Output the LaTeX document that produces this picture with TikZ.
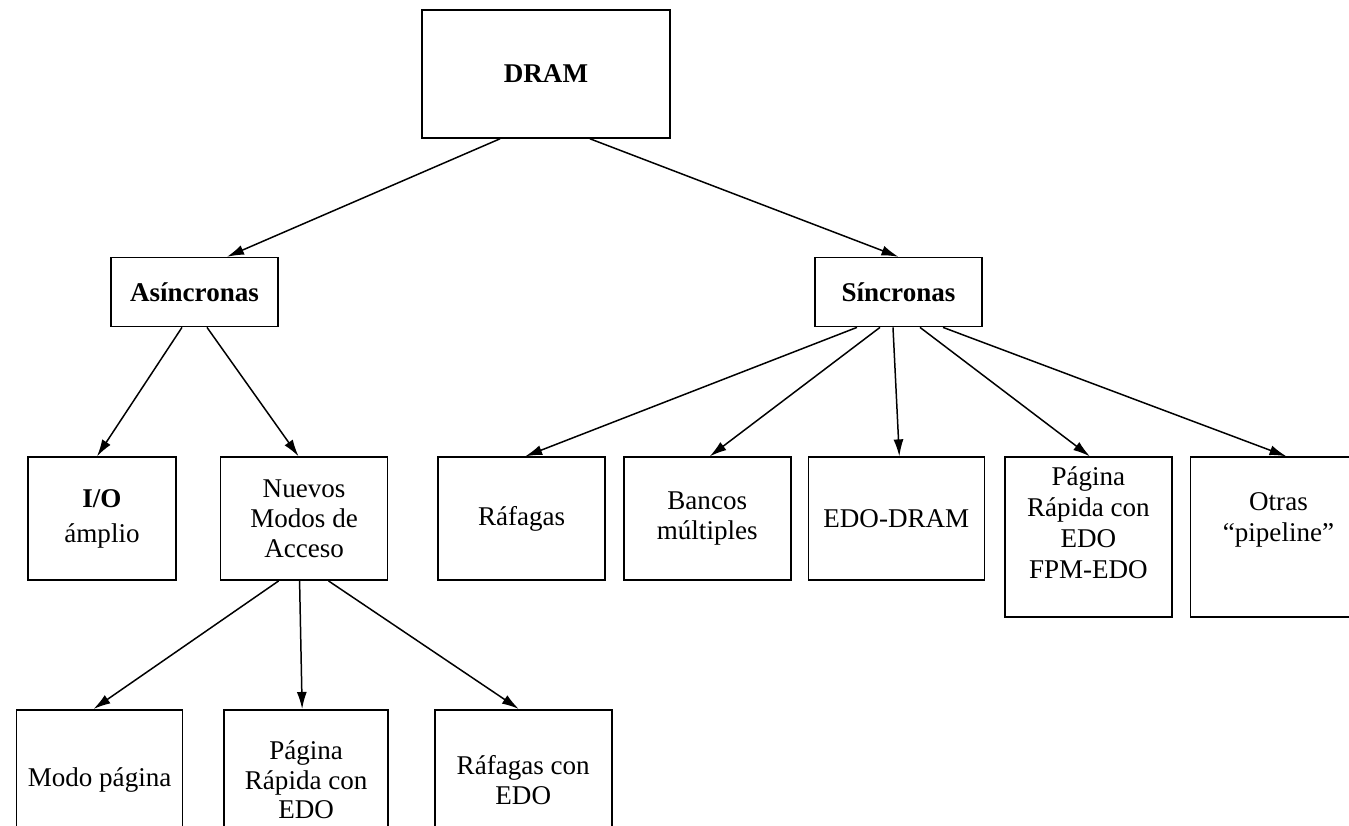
\documentclass[tikz,border=0pt]{standalone}
\usepackage{fontspec}
\setmainfont{Liberation Serif}
\usetikzlibrary{arrows.meta, positioning}

\begin{document}
\begin{tikzpicture}[
    box/.style={rectangle, draw, line width=0.9pt, align=center, inner sep=2pt, font=\fontsize{15.4}{17}\selectfont},
    topbox/.style={box, minimum width=4.96cm, minimum height=2.56cm, font=\fontsize{15.4}{17}\selectfont\bfseries},
    midbox/.style={box, minimum width=3.34cm, minimum height=1.38cm, font=\fontsize{15.4}{17}\selectfont\bfseries},
    leaf/.style={box, minimum width=3.34cm, minimum height=2.46cm},
    tallleaf/.style={box, inner sep=0pt, minimum width=3.34cm, minimum height=3.2cm, font=\fontsize{15.4}{17.6}\selectfont},
    lowleaf/.style={box, minimum width=3.34cm, minimum height=2.8cm},
    arrow/.style={-{Latex[length=0.34cm,width=0.2cm]}, line width=0.85pt}
]
    \useasboundingbox (-10.92,-15.02) rectangle (16.06,1.48);
    \clip (-10.92,-15.02) rectangle (16.06,1.48);

    \node[topbox] (dram) {DRAM};
    \node[midbox, below=2.36cm of dram, xshift=-7.03cm] (asin) {Asíncronas};
    \node[midbox, below=2.36cm of dram, xshift=7.05cm] (sinc) {Síncronas};

    \node[leaf, minimum width=2.96cm, below=2.58cm of asin, xshift=-1.85cm] (io) {\textbf{I/O}\\[3pt]ámplio};
    \node[leaf, right=0.86cm of io] (nuevos) {Nuevos\\Modos de\\Acceso};
    \node[leaf, right=0.98cm of nuevos] (raf) {Ráfagas};
    \node[leaf, right=0.34cm of raf] (bancos) {Bancos\\múltiples};
    \node[leaf, minimum width=3.52cm, right=0.32cm of bancos] (edo) {EDO-DRAM};
    \node[tallleaf, right=0.38cm of edo.north east, anchor=north west] (pag)
        {\parbox[c][3.2cm][t]{3.2cm}{\centering\vspace*{0.2cm}Página\\Rápida con\\EDO\\FPM-EDO}};
    \node[tallleaf, minimum width=3.52cm, right=0.34cm of pag] (otras)
        {\parbox[c][3.2cm][t]{3.2cm}{\centering\vspace*{0.7cm}Otras\\“pipeline”}};

    \node[lowleaf, minimum width=3.32cm, below=2.56cm of nuevos, xshift=-4.09cm] (modo) {Modo página};
    \node[lowleaf, minimum width=3.28cm, right=0.8cm of modo] (pagb) {Página\\Rápida con\\EDO};
    \node[lowleaf, minimum width=3.54cm, right=0.9cm of pagb] (rafb) {Ráfagas con\\EDO};

    \draw[arrow] ([xshift=-0.92cm]dram.south) -- ([xshift=0.65cm]asin.north);
    \draw[arrow] ([xshift=0.88cm]dram.south) -- (sinc.north);
    \draw[arrow] ([xshift=-0.25cm]asin.south) -- ([xshift=-0.1cm]io.north);
    \draw[arrow] ([xshift=0.25cm]asin.south) -- ([xshift=-0.11cm]nuevos.north);
    \draw[arrow] ([xshift=-0.83cm]sinc.south) -- ([xshift=0.07cm]raf.north);
    \draw[arrow] ([xshift=-0.37cm]sinc.south) -- ([xshift=0.05cm]bancos.north);
    \draw[arrow] ([xshift=-0.11cm]sinc.south) -- ([xshift=0.06cm]edo.north);
    \draw[arrow] ([xshift=0.43cm]sinc.south) -- ([xshift=0.03cm]pag.north);
    \draw[arrow] ([xshift=0.89cm]sinc.south) -- ([xshift=0.16cm]otras.north);
    \draw[arrow] ([xshift=-0.51cm]nuevos.south) -- ([xshift=-0.12cm]modo.north);
    \draw[arrow] ([xshift=-0.09cm]nuevos.south) -- ([xshift=-0.08cm]pagb.north);
    \draw[arrow] ([xshift=0.49cm]nuevos.south) -- ([xshift=-0.09cm]rafb.north);
\end{tikzpicture}
\end{document}
